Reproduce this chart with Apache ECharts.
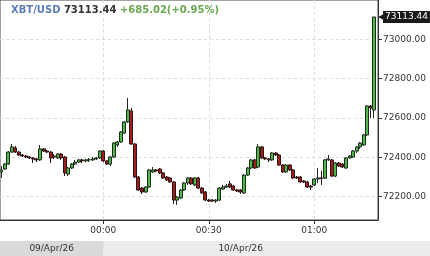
<!DOCTYPE html>
<html>
<head>
<meta charset="utf-8">
<script src="https://cdn.jsdelivr.net/npm/echarts@6/dist/echarts.min.js"></script>
<style>
html,body{margin:0;padding:0;background:#fff;}
#chart{width:430px;height:256px;}
</style>
</head>
<body>
<div id="chart"></div>
<script>
// ---- data ----
const symbolName = 'XBT/USD';
const lastPrice = 73113.44;
const changeText = '+685.02(+0.95%)';
const firstMinute = -29;            // first candle at 23:31 (minutes from 00:00)
const open = [
72326,72341,72366,72427,72448,72427,72412,72407,72402,72397,
72392,72387,72443,72432,72427,72407,72397,72417,72402,72315,
72346,72366,72376,72387,72382,72387,72387,72392,72397,72432,
72382,72366,72402,72463,72478,72524,72580,72636,72468,72300,
72244,72224,72249,72326,72336,72341,72321,72300,72295,72275,
72183,72193,72234,72270,72295,72260,72295,72244,72224,72183,
72183,72178,72183,72239,72249,72265,72254,72234,72234,72219,
72310,72346,72387,72351,72453,72397,72392,72387,72422,72412,
72361,72326,72361,72336,72300,72300,72280,72275,72254,72260,
72290,72295,72294,72387,72387,72305,72371,72366,72346,72397,
72402,72432,72453,72463,72514,72661,72641];
const close = [
72336,72366,72427,72453,72427,72412,72407,72402,72397,72392,
72387,72443,72432,72427,72397,72402,72417,72397,72321,72346,
72366,72376,72387,72382,72387,72388,72392,72397,72432,72382,
72366,72402,72473,72478,72529,72580,72641,72468,72300,72234,
72224,72249,72336,72336,72331,72321,72295,72285,72275,72183,
72198,72234,72270,72295,72265,72295,72244,72219,72183,72178,
72178,72183,72244,72249,72254,72249,72234,72229,72224,72310,
72346,72387,72346,72453,72397,72392,72387,72422,72412,72361,
72326,72361,72336,72295,72295,72275,72275,72249,72249,72290,
72295,72294,72387,72392,72305,72371,72356,72351,72397,72407,
72432,72453,72473,72514,72661,72651,73113.44];
const low = [
72295,72336,72361,72422,72422,72407,72402,72397,72392,72371,
72376,72382,72427,72422,72371,72392,72392,72387,72305,72305,
72341,72361,72371,72371,72376,72376,72382,72387,72392,72376,
72361,72356,72397,72453,72473,72519,72575,72463,72295,72229,
72214,72219,72244,72321,72326,72315,72290,72280,72270,72163,
72158,72188,72229,72260,72260,72254,72239,72214,72178,72173,
72173,72168,72178,72234,72244,72244,72229,72224,72214,72214,
72305,72341,72341,72346,72392,72387,72376,72382,72407,72356,
72321,72321,72331,72290,72290,72270,72270,72244,72234,72254,
72270,72260,72290,72382,72300,72300,72351,72346,72341,72392,
72397,72422,72443,72458,72509,72600,72600];
const high = [
72356,72371,72432,72468,72458,72432,72417,72412,72407,72402,
72397,72463,72448,72437,72432,72417,72422,72422,72407,72351,
72371,72387,72392,72392,72392,72397,72402,72402,72437,72437,
72387,72407,72478,72483,72534,72585,72702,72651,72473,72305,
72249,72254,72341,72351,72341,72346,72326,72305,72300,72280,
72204,72239,72275,72300,72300,72300,72300,72249,72229,72188,
72188,72188,72249,72260,72265,72280,72260,72239,72239,72315,
72351,72392,72392,72468,72458,72402,72397,72427,72427,72417,
72366,72366,72366,72341,72305,72305,72285,72280,72260,72295,
72346,72331,72392,72412,72392,72376,72376,72371,72402,72412,
72437,72458,72478,72519,72666,72666,73113.44];
const xTicks = [0, 30, 60];
const xTickLabels = ['00:00', '00:30', '01:00'];
const yTicks = [72200, 72400, 72600, 72800, 73000];
const dayLabels = ['09/Apr/26', '10/Apr/26'];
const dayBoundary = 0;               // midnight, minutes from 00:00

// ---- view range ----
const xMin = -29.37, xMax = 78.1;
const yMin = 72081.6, yMax = 73199.7;
const stripMax = xMin + 430 / (378 / (xMax - xMin));

const candles = open.map((o, i) => [firstMinute + i, o, close[i], low[i], high[i]]);

const FONT = 'DejaVu Sans';
const chart = echarts.init(document.getElementById('chart'), null, {renderer: 'canvas'});
chart.setOption({
  animation: false,
  backgroundColor: '#ffffff',
  title: {
    left: 11, top: 5, padding: 0,
    text: '{a|' + symbolName + '} {b|' + lastPrice.toFixed(2) + '} {c|' + changeText + '}',
    textStyle: {
      fontFamily: FONT, fontSize: 10, fontWeight: 'bold',
      rich: {
        a: {color: '#5b7db5', fontFamily: FONT, fontSize: 10, fontWeight: 'bold'},
        b: {color: '#333333', fontFamily: FONT, fontSize: 10, fontWeight: 'bold'},
        c: {color: '#6aa84f', fontFamily: FONT, fontSize: 10, fontWeight: 'bold'}
      }
    }
  },
  grid: [
    {left: 0, right: 52, top: 0, bottom: 36, show: true, borderColor: '#444', borderWidth: 1, backgroundColor: '#fff'},
    {left: 0, right: 0, top: 241, height: 15, show: true, borderWidth: 0, backgroundColor: '#ececec'}
  ],
  xAxis: [
    {
      type: 'value', gridIndex: 0, min: xMin, max: xMax,
      axisLine: {show: true, onZero: false, lineStyle: {color: '#333'}},
      axisTick: {show: true, length: 4, customValues: xTicks, lineStyle: {color: '#333'}},
      axisLabel: {
        customValues: xTicks, margin: 6, color: '#333', fontFamily: FONT, fontSize: 9,
        formatter: v => xTickLabels[xTicks.indexOf(v)]
      },
      splitLine: {show: true, lineStyle: {color: '#dcdcdc', type: [3, 3]}}
    },
    {type: 'value', gridIndex: 1, min: xMin, max: stripMax, show: false}
  ],
  yAxis: [
    {
      type: 'value', gridIndex: 0, position: 'right', min: yMin, max: yMax, scale: true,
      axisLine: {show: true, onZero: false, lineStyle: {color: '#333'}},
      axisTick: {show: true, length: 4, customValues: yTicks, lineStyle: {color: '#333'}},
      axisLabel: {
        customValues: yTicks, margin: 5, color: '#333', fontFamily: FONT, fontSize: 9,
        formatter: v => v.toFixed(2)
      },
      splitLine: {show: true, lineStyle: {color: '#dcdcdc', type: [3, 3]}}
    },
    {type: 'value', gridIndex: 1, min: 0, max: 1, show: false}
  ],
  series: [
    {
      type: 'candlestick', xAxisIndex: 0, yAxisIndex: 0,
      data: candles, barWidth: 3.5, clip: false,
      itemStyle: {
        color: '#4cbb4a', color0: '#a51d1d',
        borderColor: '#1f2a1f', borderColor0: '#2a1414', borderColorDoji: '#222',
        borderWidth: 1
      },
      markLine: {
        silent: true, symbol: ['none', 'none'],
        lineStyle: {color: 'rgba(0,0,0,0)', width: 0},
        data: [{yAxis: lastPrice}],
        label: {
          show: true, position: 'end', distance: 5,
          formatter: lastPrice.toFixed(2),
          color: '#fff', backgroundColor: '#1a1a1a',
          fontFamily: FONT, fontSize: 9, padding: [2, 2, 1, 2]
        }
      },
      markPoint: {
        silent: true, symbol: 'triangle', symbolSize: [6, 6], symbolRotate: 90,
        symbolOffset: [3, 0],
        itemStyle: {color: '#1a1a1a'},
        label: {show: false},
        data: [{coord: [xMax, lastPrice]}]
      }
    },
    {
      type: 'line', xAxisIndex: 1, yAxisIndex: 1, silent: true,
      data: [[xMin, -5]], symbol: 'none', lineStyle: {opacity: 0},
      markArea: {
        silent: true,
        label: {show: true, position: 'inside', color: '#333', fontFamily: FONT, fontSize: 9},
        data: [
          [{xAxis: xMin, name: dayLabels[0], itemStyle: {color: '#dadada'}}, {xAxis: dayBoundary}],
          [{xAxis: dayBoundary, name: dayLabels[1], itemStyle: {color: 'rgba(0,0,0,0)'}}, {xAxis: xMax}]
        ]
      }
    }
  ]
});
</script>
</body>
</html>
